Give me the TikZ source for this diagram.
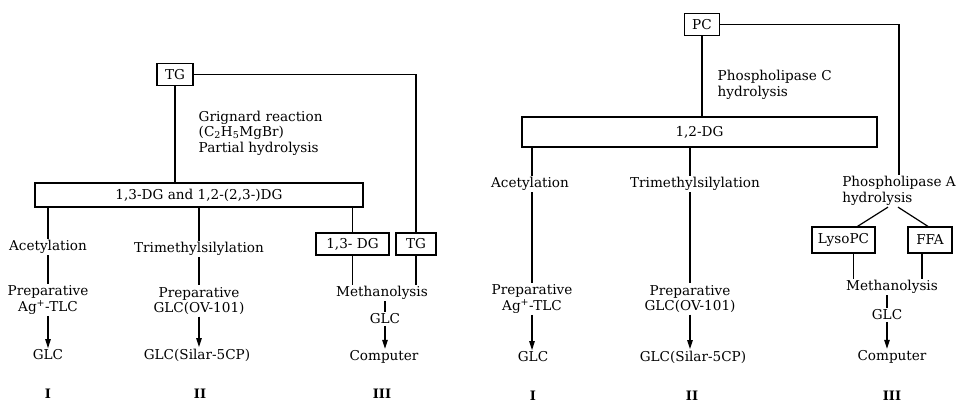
\documentclass[tikz,border=0pt]{standalone}
\usepackage{fontspec}
\setmainfont{DejaVu Serif}
\usetikzlibrary{arrows.meta}
\begin{document}
\begin{tikzpicture}[x=1pt,y=-1pt,
  every node/.style={font=\fontsize{13.6}{15.5}\selectfont, inner sep=1.5pt},
  box/.style={draw, line width=1.2pt, minimum height=22pt, inner sep=2pt},
  ln/.style={line width=1.2pt},
  arr/.style={line width=1.2pt,-{Triangle[length=9pt,width=5.5pt]}},
  num/.style={font=\fontsize{13}{14}\selectfont\bfseries}]
\useasboundingbox (0,0) rectangle (959,404);
% ---------- left diagram ----------
\node[box, minimum width=36pt] (tgA) at (175,74.5) {TG};
\node[align=left, anchor=west] (grig) at (197,133) {Grignard reaction\\(C\textsubscript{2}H\textsubscript{5}MgBr)\\Partial hydrolysis};
\node[box, minimum width=328pt, minimum height=24pt] (dgA) at (199,195) {1,3-DG and 1,2-(2,3-)DG};
\node (acA) at (48,247) {Acetylation};
\node[align=center] (prA) at (48,300) {Preparative\\Ag\textsuperscript{+}-TLC};
\node (glA) at (48,355) {GLC};
\node[num] (nA1) at (48,394) {I};
\node (tmA) at (199,249) {Trimethylsilylation};
\node[align=center] (prA2) at (199,301) {Preparative\\GLC(OV-101)};
\node (glA2) at (197,355) {GLC(Silar-5CP)};
\node[num] (nA2) at (200,394) {II};
\node[box, minimum width=73pt] (dg13) at (352.5,244) {1,3- DG};
\node[box, minimum width=40pt] (tgB) at (416,244) {TG};
\node (meA) at (382,293) {Methanolysis};
\node (gcA) at (385,319) {GLC};
\node (coA) at (384,357) {Computer};
\node[num] (nA3) at (382,394) {III};
\draw[ln] (tgA) -- (tgA |- dgA.north);
\draw[ln] (tgA.east) -| (tgB.north);
\draw[ln] (acA |- dgA.south) -- (acA);
\draw[ln] (acA) -- (prA);
\draw[arr] (prA) -- (glA);
\draw[ln] (tmA |- dgA.south) -- (tmA);
\draw[ln] (tmA) -- (prA2);
\draw[arr] (prA2) -- (prA2 |- glA2.north);
\draw[ln] (dg13 |- dgA.south) -- (dg13);
\draw[ln] (dg13.south) -- (dg13.south |- meA.north);
\draw[ln] (tgB.south) -- (tgB.south |- meA.north);
\draw[ln] (gcA |- meA.south) -- (gcA);
\draw[arr] (gcA) -- (gcA |- coA.north);
% ---------- right diagram ----------
\node[box, minimum width=35pt] (pc) at (702,24.5) {PC};
\node[align=left, anchor=west] (plc) at (716,85) {Phospholipase C\\hydrolysis};
\node[box, minimum width=355pt, minimum height=30pt] (dgB) at (699.5,132) {1,2-DG};
\node (acB) at (530,184) {Acetylation};
\node[align=center] (prB) at (532,299) {Preparative\\Ag\textsuperscript{+}-TLC};
\node (glB) at (533,357) {GLC};
\node[num] (nB1) at (533,396) {I};
\node (tmB) at (695,184) {Trimethylsilylation};
\node[align=center] (prB2) at (690,299) {Preparative\\GLC(OV-101)};
\node (glB2) at (693,357) {GLC(Silar-5CP)};
\node[num] (nB2) at (692,396) {II};
\node[align=left] (phA) at (899,191) {Phospholipase A\\hydrolysis};
\node[box, minimum width=63pt, minimum height=26pt] (lyso) at (843.5,240) {LysoPC};
\node[box, minimum width=44pt, minimum height=26pt] (ffa) at (930,240) {FFA};
\node (meB) at (892,287) {Methanolysis};
\node (gcB) at (887,315) {GLC};
\node (coB) at (892,357) {Computer};
\node[num] (nB3) at (892,396) {III};
\draw[ln] (pc) -- (pc |- dgB.north);
\draw[ln] (pc.east) -| (phA.north);
\draw[ln] (prB |- dgB.south) -- (prB |- acB.north);
\draw[ln] (prB |- acB.south) -- (prB.north);
\draw[arr] (prB) -- (prB |- glB.north);
\draw[ln] (prB2 |- dgB.south) -- (prB2 |- tmB.north);
\draw[ln] (prB2 |- tmB.south) -- (prB2.north);
\draw[arr] (prB2) -- (prB2 |- glB2.north);
\draw[ln] ([xshift=-11pt]phA.south) -- ([xshift=14pt]lyso.north);
\draw[ln] ([xshift=-1pt]phA.south) -- ([xshift=-2pt]ffa.north);
\draw[ln] ([xshift=10pt]lyso.south) -- ([xshift=10pt]lyso.south |- meB.north);
\draw[ln] ([xshift=-8pt]ffa.south) -- ([xshift=-8pt]ffa.south |- meB.north);
\draw[ln] (gcB |- meB.south) -- (gcB);
\draw[arr] (gcB) -- (gcB |- coB.north);
\end{tikzpicture}
\end{document}
